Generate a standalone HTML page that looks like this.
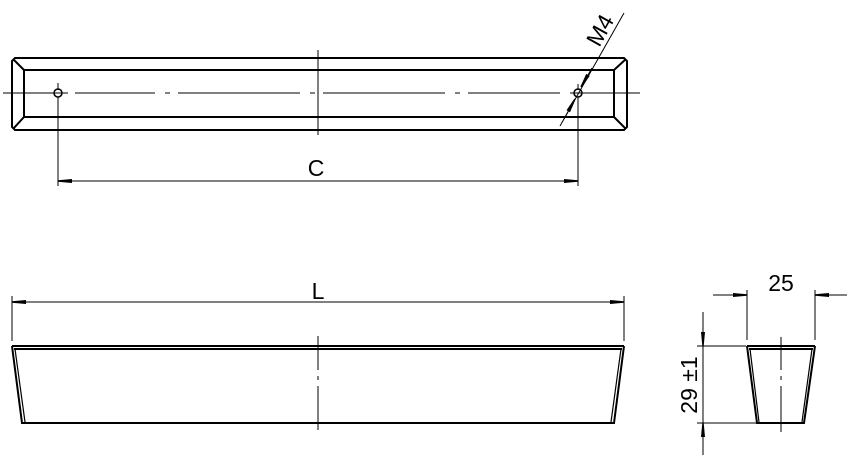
<!DOCTYPE html>
<html><head><style>body{margin:0;background:#fff}svg{display:block}</style></head><body>
<svg width="862" height="462" viewBox="0 0 862 462" xmlns="http://www.w3.org/2000/svg" font-family="Liberation Sans, sans-serif">
<defs>
<marker id="a" viewBox="0 0 14 6" refX="14" refY="3" markerWidth="14" markerHeight="6" markerUnits="userSpaceOnUse" orient="auto-start-reverse"><path d="M0,1 L14,2.3 L14,3.7 L0,5 Z" fill="#000"/></marker>
</defs>
<g fill="none" stroke="#000">
<g stroke-width="2">
<path d="M15,58 H624 L627,61 V127 L624,130 H15 L12,127 V61 Z"/>
<rect x="24" y="70" width="590" height="47"/>
<path d="M13,59 L24,70 M13,129 L24,117 M626,59 L614,70 M626,129 L614,117"/>
</g>
<circle cx="58" cy="93" r="4" stroke-width="1.5"/>
<circle cx="578" cy="93" r="4" stroke-width="1.5"/>
<g stroke-width="1">
<path d="M3,93 H68 M75,93 H155 M165,93 H170 M178,93 H300 M310,93 H315 M323,93 H445 M455,93 H460 M468,93 H560 M570,93 H640"/>
<path d="M318,50 V135"/>
<path d="M58,83 V90 M58,97 V186 M578,84 V90 M578,97 V186"/>
<path d="M58,181 H578" marker-start="url(#a)" marker-end="url(#a)"/>
<path d="M560,126 L624,13"/>
<path d="M564,119 L575,99" marker-end="url(#a)"/>
<path d="M592,68 L581,87" marker-end="url(#a)"/>
</g>
<g stroke-width="2">
<path d="M12,346 H624 M14,349 H622"/>
<path d="M12,346 L22,423 H614 L624,346"/>
<path d="M15,349 L25,422 M621,349 L611,422" stroke-width="1.2"/>
</g>
<g stroke-width="1">
<path d="M12,296 V341 M624,296 V341"/>
<path d="M12,302 H624" marker-start="url(#a)" marker-end="url(#a)"/>
<path d="M318,336 V370 M318,376 V380 M318,386 V430"/>
</g>
<g stroke-width="2">
<path d="M747,346 H815 M749,349 H813"/>
<path d="M747,346 L757,423 H804 L815,346"/>
<path d="M750,349 L759,422 M812,349 L802,422" stroke-width="1.2"/>
</g>
<g stroke-width="1">
<path d="M747,290 V340 M815,290 V340"/>
<path d="M713,295 H747" marker-end="url(#a)"/>
<path d="M847,295 H815" marker-end="url(#a)"/>
<path d="M697,346 H746 M697,423 H757"/>
<path d="M703,312 V346" marker-end="url(#a)"/>
<path d="M703,455 V423" marker-end="url(#a)"/>
<path d="M703,346 V423"/>
<path d="M781,337 V370 M781,376 V380 M781,386 V432"/>
</g>
</g>
<g font-size="23" fill="#000">
<text x="316" y="176" text-anchor="middle">C</text>
<text x="318" y="299" text-anchor="middle">L</text>
<text x="781" y="291" text-anchor="middle">25</text>
<text transform="translate(697,385) rotate(-90)" text-anchor="middle">29 ±1</text>
<text transform="translate(607,34) rotate(-61)" text-anchor="middle">M4</text>
</g>
</svg>
</body></html>
